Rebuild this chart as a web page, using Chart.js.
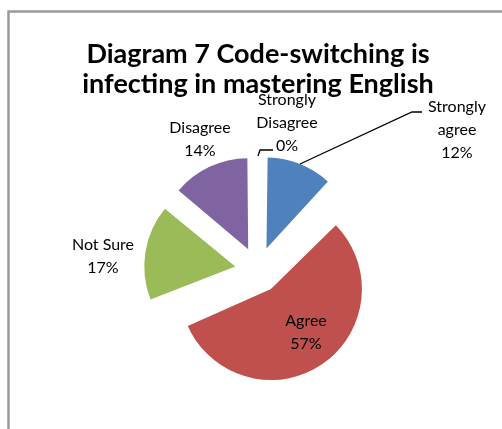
<!DOCTYPE html>
<html>
<head>
<meta charset="utf-8">
<script src="https://cdn.jsdelivr.net/npm/chart.js@4"></script>
<style>
html,body{margin:0;padding:0;background:#fff;}
#wrap{position:relative;width:502px;height:429px;}
</style>
</head>
<body>
<div id="wrap"><canvas id="c" width="502" height="429"></canvas></div>
<script>
// ---- data ----
const categories = ["Strongly agree", "Agree", "Not Sure", "Disagree", "Strongly Disagree"];
const percentValues = [12, 57, 17, 14, 0];
const titleLines = ["Diagram 7 Code-switching is", "infecting in mastering English"];

// ---- style ----
const sliceColors = ["#4F81BD", "#C0504D", "#9BBB59", "#8064A2", "#4BACC6"];
const EXPLODE = 23;     // px each slice is pulled out
const RADIUS = 91;
// label block centres relative to pie centre
const labelOffsets = [[199, -140.5], [48, 62], [-155, -13.5], [-58, -130.5], [29, -147]];
const labelLineHeight = 23;
// leader lines (elbow, tail) relative to pie centre; null = none
const leaders = [[[154, -158], [164, -158]], null, null, null, [[2, -120], [15, -120]]];

const decorPlugin = {
  id: 'decor',
  beforeDraw(chart) {
    const ctx = chart.ctx;
    ctx.save();
    ctx.fillStyle = '#fff';
    ctx.fillRect(0, 0, chart.width, chart.height);
    ctx.strokeStyle = '#9a9a9a';
    ctx.lineWidth = 2.5;
    ctx.strokeRect(8.5, 11.5, 600, 600);
    ctx.restore();
  },
  afterDatasetsUpdate(chart) {
    // Chart.js enlarges exploded arcs; keep every slice at the same radius
    const meta = chart.getDatasetMeta(0);
    meta.data.forEach((el) => {
      const circ = el.endAngle - el.startAngle;
      const fix = 1 - Math.sin(Math.min(Math.PI, circ || 0));
      el.outerRadius = RADIUS - EXPLODE * fix;
    });
  },
  afterDatasetsDraw(chart) {
    const ctx = chart.ctx;
    const meta = chart.getDatasetMeta(0);
    ctx.save();
    // leader lines
    ctx.strokeStyle = '#000';
    ctx.lineWidth = 1.3;
    meta.data.forEach((el, i) => {
      const L = leaders[i];
      if (!L) return;
      const mid = (el.startAngle + el.endAngle) / 2;
      const rr = EXPLODE + RADIUS;
      const sx = el.x + Math.cos(mid) * rr, sy = el.y + Math.sin(mid) * rr;
      ctx.beginPath();
      ctx.moveTo(sx, sy);
      ctx.lineTo(el.x + L[0][0], el.y + L[0][1]);
      ctx.lineTo(el.x + L[1][0], el.y + L[1][1]);
      ctx.stroke();
    });
    // labels
    ctx.fillStyle = '#000';
    ctx.font = '16px Lato';
    ctx.textAlign = 'center';
    ctx.textBaseline = 'middle';
    meta.data.forEach((el, i) => {
      const words = categories[i].split(' ');
      let lines;
      if (i === 0 || i === 4) lines = [...words, percentValues[i] + '%'];
      else lines = [categories[i], percentValues[i] + '%'];
      const cx = el.x + labelOffsets[i][0], cy = el.y + labelOffsets[i][1];
      const y0 = cy - (lines.length - 1) * labelLineHeight / 2;
      lines.forEach((t, k) => ctx.fillText(t, cx, y0 + k * labelLineHeight));
    });
    // title
    ctx.font = 'bold 27px Lato';
    ctx.textBaseline = 'alphabetic';
    ctx.fillText(titleLines[0], 258, 63);
    ctx.fillText(titleLines[1], 258, 93);
    ctx.restore();
  }
};

new Chart(document.getElementById('c'), {
  type: 'pie',
  data: {
    labels: categories,
    datasets: [{
      data: percentValues,
      backgroundColor: sliceColors,
      borderWidth: 0,
      radius: RADIUS,
      offset: 4 * EXPLODE,
      hoverOffset: 4 * EXPLODE
    }]
  },
  options: {
    responsive: false,
    animation: false,
    events: [],
    layout: { padding: { left: 156, right: 142, top: 170, bottom: 59 } },
    plugins: { legend: { display: false }, tooltip: { enabled: false }, title: { display: false } }
  },
  plugins: [decorPlugin]
});
</script>
</body>
</html>
